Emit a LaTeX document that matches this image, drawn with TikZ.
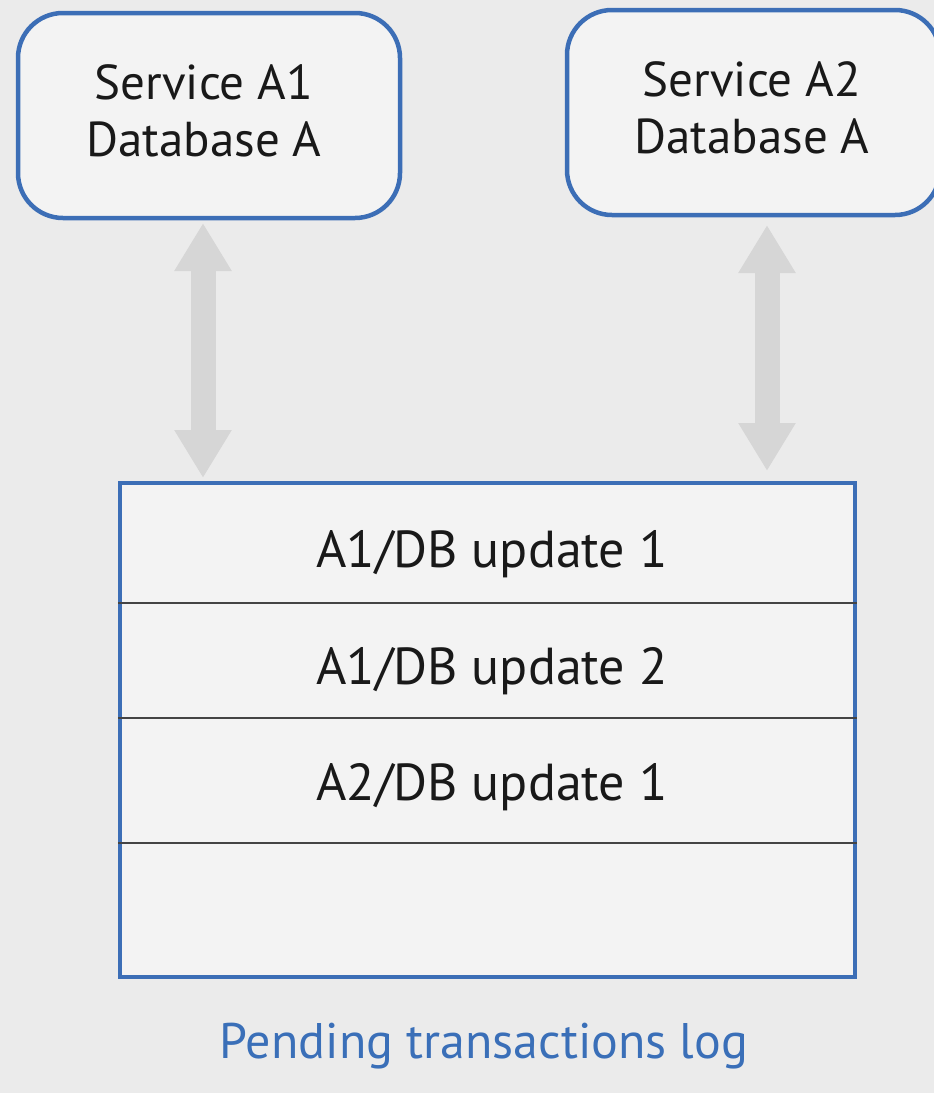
\documentclass[tikz,border=0pt]{standalone}
\usepackage{fontspec}
\setmainfont{PT Sans}
\usetikzlibrary{arrows.meta}
\definecolor{bg}{HTML}{EBEBEB}
\definecolor{boxfill}{HTML}{F3F3F3}
\definecolor{bord}{HTML}{3C6EB6}
\definecolor{arr}{HTML}{D6D6D6}
\definecolor{divc}{HTML}{444444}
\definecolor{lab}{HTML}{3A6FB8}
\tikzset{
  svc/.style={draw=bord, line width=4.5pt, fill=boxfill, rounded corners=45pt,
    align=center, inner sep=0pt, font=\fontsize{49}{57}\selectfont, text=black!90},
  logbox/.style={draw=bord, line width=4.5pt, fill=boxfill, inner sep=0pt},
  rowtxt/.style={anchor=base, inner sep=0pt, font=\fontsize{52}{57}\selectfont, text=black!90},
  divider/.style={draw=divc, line width=2.5pt},
  fatarrow/.style={draw=arr, line width=25pt,
    {Triangle[width=54pt,length=48pt]}-{Triangle[width=54pt,length=48pt]}},
}
\begin{document}
\begin{tikzpicture}[x=1pt,y=-1pt]
\useasboundingbox (0,0) rectangle (934,1093);
\fill[bg] (0,0) rectangle (934,1093);
\begin{scope}
\clip (0,0) rectangle (934,1093);
\node[svc, minimum width=382pt, minimum height=205pt] (a1) at (209,115.5) {};
\node[svc, minimum width=373pt, minimum height=205pt] (a2) at (753.5,112.5) {};
\end{scope}
\node[align=center, inner sep=0pt, font=\fontsize{49}{57}\selectfont, text=black!90] (t1) at (204,111) {Service A1\\Database A};
\node[align=center, inner sep=0pt, font=\fontsize{49}{57}\selectfont, text=black!90] (t2) at (752,108) {Service A2\\Database A};
\node[logbox, minimum width=735pt, minimum height=494pt] (log) at (487.5,730) {};
\coordinate (d1) at (487.5,603);
\coordinate (d2) at (487.5,718);
\coordinate (d3) at (487.5,843);
\draw[divider] (log.west |- d1) -- (log.east |- d1);
\draw[divider] (log.west |- d2) -- (log.east |- d2);
\draw[divider] (log.west |- d3) -- (log.east |- d3);
\node[rowtxt] (r1) at (492,567) {A1/DB update 1};
\node[rowtxt] (r2) at (492,684) {A1/DB update 2};
\node[rowtxt] (r3) at (492,800) {A2/DB update 1};
\node[anchor=base, inner sep=0pt, font=\fontsize{50}{58}\selectfont, text=lab] (title) at (484,1058) {Pending transactions log};
\coordinate (u1) at (203,223);
\coordinate (l1) at (203,478);
\coordinate (u2) at (767,225);
\coordinate (l2) at (767,471);
\draw[fatarrow] (u1) -- (l1);
\draw[fatarrow] (u2) -- (l2);
\end{tikzpicture}
\end{document}
